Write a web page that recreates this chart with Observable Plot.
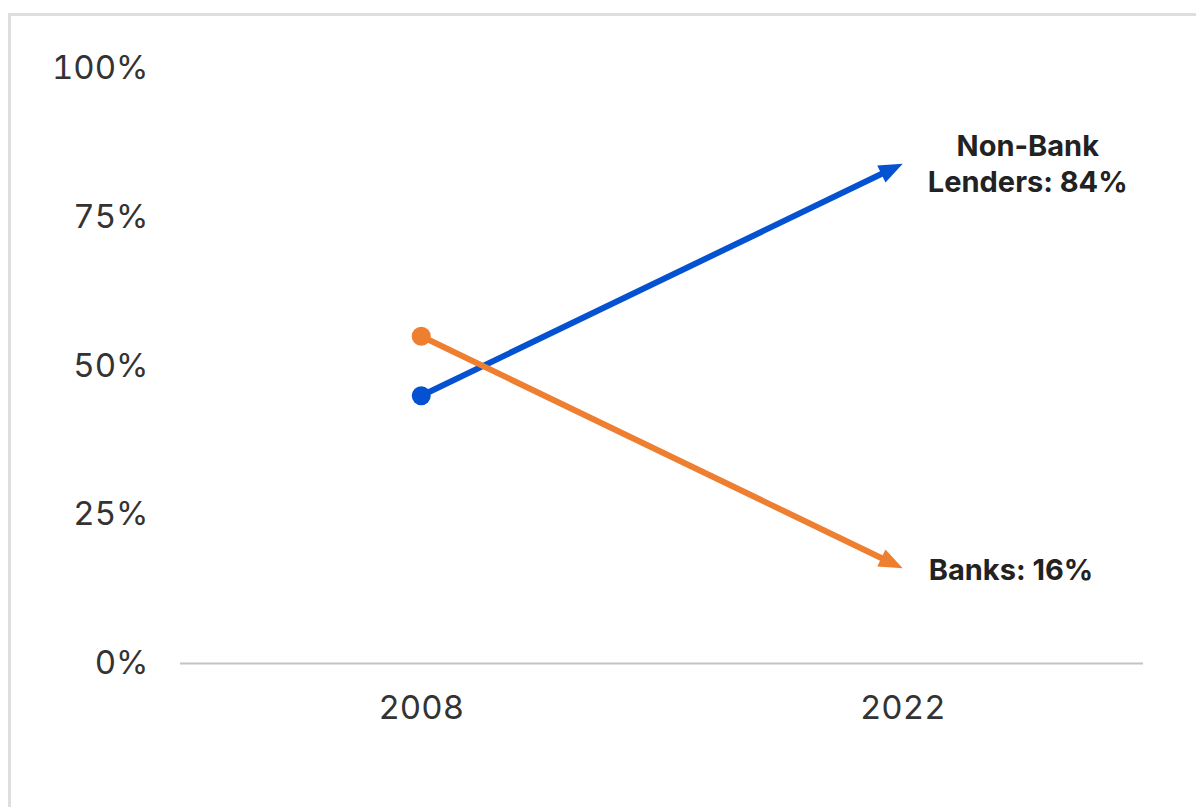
<!DOCTYPE html>
<html>
<head>
<meta charset="utf-8">
<script src="https://cdn.jsdelivr.net/npm/d3@7"></script>
<script src="https://cdn.jsdelivr.net/npm/@observablehq/plot@0.6"></script>
<style>
  html, body { margin: 0; padding: 0; background: #fff; overflow: hidden; }
  #frame { position: absolute; left: 8px; top: 13px; width: 1400px; height: 1000px; border: 3px solid #dedede; box-sizing: border-box; }
  #chart { position: absolute; left: 0; top: 0; }
</style>
</head>
<body>
<div id="frame"></div>
<div id="chart"></div>
<script>
// ---- data ----
const years = [2008, 2022];
const seriesNames = ["Non-Bank Lenders", "Banks"];
const nonBankValues = [45, 84];
const bankValues = [55, 16];
const yTicks = [0, 25, 50, 75, 100];
const labelTexts = ["Non-Bank\nLenders: 84%", "Banks: 16%"];

// ---- styles ----
const seriesColors = ["#0452d2", "#ee7e30"];

const valuesBySeries = [nonBankValues, bankValues];
const segments = seriesNames.map((s, i) => ({
  series: s,
  x1: years[0], y1: valuesBySeries[i][0],
  x2: years[1], y2: valuesBySeries[i][1],
  label: labelTexts[i]
}));

// arrowhead symbol with its tip at the origin, pointing "up"
const tipTriangle = {
  draw(ctx, size) {
    const r = Math.sqrt(size / Math.PI);
    const L = r * 2.5, w = r * 1.0;
    ctx.moveTo(0, 0);
    ctx.lineTo(-w, L);
    ctx.lineTo(w, L);
    ctx.closePath();
  }
};

function baseOptions(extraMarks) {
  return {
    width: 1196,
    height: 807,
    marginLeft: 180,
    marginRight: 53,
    marginTop: 68,
    marginBottom: 144,
    style: { fontFamily: "Inter, 'Liberation Sans', Arial, sans-serif", fontSize: "33px", color: "#333", background: "transparent", overflow: "visible" },
    x: { type: "linear", domain: [2001, 2029], ticks: years, tickFormat: d => String(d), tickSize: 0, tickPadding: 32, label: null },
    y: { domain: [0, 100], ticks: yTicks, tickFormat: d => d + "%", tickSize: 0, tickPadding: 32, label: null },
    color: { domain: seriesNames, range: seriesColors },
    marks: [
      Plot.ruleY([0], { stroke: "#c4c4c4", strokeWidth: 2 }),
      Plot.arrow(segments, { x1: "x1", y1: "y1", x2: "x2", y2: "y2", stroke: "series", strokeWidth: 6, headLength: 0, insetEnd: 14 }),
      Plot.dot(segments, { x: "x1", y: "y1", fill: "series", r: 9.5 }),
      ...extraMarks
    ]
  };
}

// first pass: read the scales to orient the arrowheads along each line
const probe = Plot.plot(baseOptions([]));
const sx = probe.scale("x"), sy = probe.scale("y");
const angles = segments.map(d => {
  const dx = sx.apply(d.x2) - sx.apply(d.x1);
  const dy = sy.apply(d.y2) - sy.apply(d.y1);
  return Math.atan2(dy, dx) * 180 / Math.PI + 90;
});

const chart = Plot.plot(baseOptions([
  Plot.dot(segments, { x: "x2", y: "y2", fill: "series", r: 9.5, symbol: tipTriangle, rotate: (d, i) => angles[i] }),
  Plot.text([segments[0]], { x: "x2", y: "y2", text: "label", textAnchor: "middle", dx: 125, dy: -1, fontSize: 29, fontWeight: 700, lineHeight: 1.25, fill: "#222" }),
  Plot.text([segments[1]], { x: "x2", y: "y2", text: "label", textAnchor: "start", dx: 26, dy: 2, fontSize: 29, fontWeight: 700, fill: "#222" })
]));

document.getElementById("chart").appendChild(chart);
</script>
</body>
</html>
